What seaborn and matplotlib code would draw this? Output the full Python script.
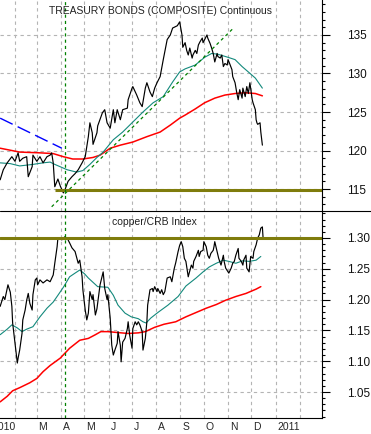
import pandas as pd
import matplotlib.pyplot as plt
from matplotlib.ticker import MultipleLocator
from matplotlib.lines import Line2D
import seaborn as sns

# 날짜는 2010-01-01 기준 경과일
base = pd.Timestamp('2010-01-01')

# 미 국채 (TREASURY BONDS) 종가
bond_days = [12, 16, 21, 27, 31, 35, 37, 41, 46, 48,
             53, 54, 59, 63, 67, 72, 76, 78, 80, 82,
             86, 89, 93, 95, 99, 104, 108, 112, 117, 121,
             125, 127, 130, 131, 136, 137, 143, 146, 149, 153,
             157, 159, 162, 166, 169, 175, 176, 181, 182, 187,
             191, 194, 198, 200, 204, 207, 210, 213, 217, 221,
             226, 230, 233, 239, 242, 245, 246, 249, 251, 253,
             255, 258, 259, 262, 264, 266, 268, 271, 272, 274,
             277, 278, 281, 283, 285, 287, 290, 291, 294, 296,
             298, 300, 303, 304, 306, 309, 310, 313, 315, 317,
             319, 322, 323, 326, 328, 330, 332, 335, 336, 339,
             340, 341, 342, 345, 346, 348]
bond_close = [116.2, 117.5, 118.4, 119.2, 118.6, 119.7, 118.6, 119.0, 119.2, 116.6,
              117.9, 119.4, 118.6, 119.2, 118.4, 119.2, 119.4, 119.7, 118.4, 115.3,
              116.3, 115.4, 114.5, 114.9, 116.0, 116.6, 117.0, 117.5, 118.4, 119.2,
              121.8, 123.6, 122.3, 120.8, 122.3, 123.2, 124.9, 125.3, 123.6, 122.9,
              125.3, 123.6, 125.3, 124.0, 125.3, 125.5, 126.6, 128.1, 128.3, 127.2,
              126.2, 125.7, 128.1, 128.8, 127.6, 127.0, 128.1, 128.8, 129.6, 131.8,
              134.4, 135.0, 135.9, 136.2, 136.7, 135.0, 133.4, 134.0, 133.0, 132.4,
              133.3, 132.0, 132.4, 133.0, 132.6, 133.7, 134.1, 134.6, 134.0, 134.4,
              135.0, 134.6, 133.9, 133.3, 132.6, 131.5, 132.6, 132.2, 132.0, 132.4,
              130.9, 131.3, 131.1, 131.8, 131.3, 130.5, 129.6, 128.8, 127.6, 126.6,
              127.9, 126.8, 128.1, 127.0, 128.3, 127.4, 128.8, 126.6, 126.2, 125.3,
              124.0, 123.6, 123.4, 123.6, 122.4, 120.7]

# 국채 이동평균 (단기 / 장기)
bond_ma_s_days = [12, 25, 37, 54, 67, 76, 82, 98, 110, 118,
                  127, 136, 144, 157, 169, 182, 195, 208, 221, 233,
                  242, 249, 262, 274, 283, 291, 304, 313, 322, 330,
                  339, 348]
bond_ma_s = [118.4, 118.3, 118.0, 118.2, 118.4, 118.5, 118.2, 117.5, 117.2, 117.4,
             118.2, 119.1, 119.8, 121.4, 122.4, 123.7, 125.0, 126.2, 127.0, 128.9,
             130.2, 130.6, 131.1, 132.1, 132.6, 132.5, 132.1, 131.8, 130.9, 130.2,
             129.4, 128.1]
bond_ma_l_days = [12, 37, 63, 80, 93, 105, 118, 131, 140, 153,
                  166, 182, 200, 217, 230, 242, 249, 262, 274, 287,
                  300, 313, 326, 339, 348]
bond_ma_l = [120.3, 119.8, 119.7, 119.6, 119.2, 118.9, 118.9, 119.1, 119.4, 120.3,
             120.7, 121.1, 121.8, 122.4, 123.3, 124.2, 124.6, 125.4, 126.2, 126.8,
             127.2, 127.4, 127.5, 127.4, 127.1]

# 추세선, 지지선
down_days = [12, 91]
down_vals = [124.2, 120.3]
up_days = [78, 310]
up_vals = [112.7, 135.8]
bond_support = 114.9
bond_support_start = 82
marker_day = 95

# copper/CRB 비율
cu_days = [12, 16, 18, 21, 22, 25, 27, 28, 31, 34,
           35, 37, 40, 41, 44, 46, 48, 50, 53, 54,
           57, 59, 60, 63, 67, 72, 76, 80, 82, 85,
           86, 91, 95, 99, 101, 104, 108, 112, 114, 117,
           118, 121, 123, 125, 127, 130, 131, 134, 136, 140,
           144, 146, 149, 150, 153, 155, 157, 159, 162, 163,
           166, 167, 169, 172, 175, 176, 178, 181, 182, 185,
           187, 189, 191, 194, 195, 198, 200, 201, 204, 207,
           208, 210, 213, 214, 217, 219, 221, 223, 226, 230,
           232, 235, 237, 240, 242, 244, 246, 248, 250, 253,
           254, 257, 259, 260, 263, 266, 267, 269, 272, 273,
           276, 278, 280, 282, 285, 286, 287, 291, 292, 295,
           298, 299, 301, 304, 305, 308, 310, 312, 314, 317,
           318, 321, 323, 324, 327, 328, 331, 333, 336, 337,
           340, 342, 344, 346, 348, 349]
cu_ratio = [1.189, 1.205, 1.200, 1.218, 1.224, 1.212, 1.189, 1.162, 1.129, 1.097,
            1.105, 1.118, 1.145, 1.167, 1.183, 1.199, 1.210, 1.194, 1.183, 1.208,
            1.232, 1.235, 1.224, 1.232, 1.227, 1.232, 1.229, 1.240, 1.259, 1.286,
            1.300, 1.297, 1.302, 1.297, 1.292, 1.284, 1.278, 1.259, 1.264, 1.237,
            1.216, 1.183, 1.167, 1.178, 1.213, 1.200, 1.208, 1.175, 1.185, 1.224,
            1.245, 1.218, 1.200, 1.208, 1.170, 1.126, 1.110, 1.118, 1.129, 1.148,
            1.126, 1.099, 1.131, 1.137, 1.153, 1.164, 1.142, 1.121, 1.153, 1.164,
            1.159, 1.164, 1.159, 1.148, 1.118, 1.137, 1.164, 1.191, 1.216, 1.218,
            1.213, 1.221, 1.213, 1.218, 1.210, 1.216, 1.208, 1.213, 1.235, 1.237,
            1.229, 1.250, 1.260, 1.278, 1.288, 1.294, 1.286, 1.267, 1.262, 1.237,
            1.242, 1.256, 1.251, 1.262, 1.270, 1.280, 1.270, 1.278, 1.280, 1.294,
            1.286, 1.272, 1.267, 1.275, 1.280, 1.286, 1.294, 1.272, 1.267, 1.256,
            1.272, 1.262, 1.251, 1.245, 1.243, 1.251, 1.259, 1.262, 1.272, 1.283,
            1.267, 1.262, 1.256, 1.264, 1.272, 1.251, 1.245, 1.270, 1.267, 1.278,
            1.289, 1.300, 1.305, 1.316, 1.318, 1.298]

cu_ma_s_days = [12, 21, 27, 34, 40, 46, 54, 63, 72, 80,
                86, 93, 101, 108, 114, 120, 125, 137, 150, 157,
                163, 172, 180, 189, 195, 199, 205, 214, 227, 240,
                250, 263, 272, 280, 289, 298, 305, 314, 323, 331,
                340, 346]
cu_ma_s = [1.143, 1.152, 1.159, 1.154, 1.148, 1.152, 1.156, 1.172, 1.186, 1.196,
           1.207, 1.220, 1.237, 1.243, 1.248, 1.242, 1.235, 1.221, 1.220, 1.207,
           1.191, 1.178, 1.172, 1.169, 1.164, 1.162, 1.170, 1.179, 1.191, 1.205,
           1.222, 1.235, 1.245, 1.253, 1.259, 1.264, 1.262, 1.259, 1.263, 1.262,
           1.264, 1.270]
cu_ma_l_days = [12, 21, 28, 37, 50, 59, 67, 76, 89, 101,
                114, 125, 134, 141, 150, 167, 176, 189, 198, 210,
                222, 237, 250, 263, 276, 289, 301, 314, 327, 340,
                346]
cu_ma_l = [1.034, 1.043, 1.052, 1.057, 1.065, 1.072, 1.083, 1.093, 1.105, 1.121,
           1.134, 1.137, 1.143, 1.148, 1.148, 1.146, 1.145, 1.146, 1.148, 1.155,
           1.160, 1.164, 1.172, 1.179, 1.186, 1.192, 1.199, 1.205, 1.210, 1.217,
           1.221]
cu_resist = 1.30

month_ticks = pd.date_range('2010-01-01', '2011-03-01', freq='MS')
month_labels = ['2010', '', 'M', 'A', 'M', 'J', 'J', 'A', 'S', 'O', 'N', 'D', '2011', '', '']


def to_date(days):
    return base + pd.to_timedelta(days, unit='D')


sns.set_style('white')
plt.rcParams['font.family'] = ['Liberation Sans', 'DejaVu Sans']

TEAL = '#13897c'
RED = '#ff0000'
OLIVE = '#7f7c0c'
GRID = '#b4b4b4'

fig = plt.figure(figsize=(3.71, 4.34), dpi=100)
ax1 = fig.add_axes([0, 223 / 434, 322 / 371, 211 / 434])
ax2 = fig.add_axes([0, 16 / 434, 322 / 371, 207 / 434])

xmin, xmax = to_date(11.8), to_date(424.4)


def draw_line(ax, days, vals, color, lw):
    df = pd.DataFrame({'date': to_date(days), 'v': vals})
    sns.lineplot(data=df, x='date', y='v', ax=ax, color=color, lw=lw,
                 estimator=None, sort=False)


# 위: 국채
draw_line(ax1, bond_ma_l_days, bond_ma_l, RED, 1.1)
draw_line(ax1, bond_ma_s_days, bond_ma_s, TEAL, 0.8)
draw_line(ax1, bond_days, bond_close, 'black', 0.85)
sns.lineplot(x=to_date(down_days), y=down_vals, ax=ax1, color='#0000ff', lw=1.0,
             linestyle=(0, (10, 4)))
sns.lineplot(x=to_date(up_days), y=up_vals, ax=ax1, color='#008000', lw=0.9,
             linestyle=(0, (2.5, 2.5)))
ax1.hlines(bond_support, to_date(bond_support_start), xmax, color=OLIVE, lw=2.2)
ax1.set_ylim(112.15, 139.54)
ax1.yaxis.set_major_locator(MultipleLocator(5))
ax1.yaxis.set_minor_locator(MultipleLocator(1))
ax1.text(0.497, 0.948, 'TREASURY BONDS (COMPOSITE) Continuous', transform=ax1.transAxes,
         ha='center', va='center', fontsize=7.5, color='#222222')

# 아래: copper/CRB
draw_line(ax2, cu_ma_l_days, cu_ma_l, RED, 1.1)
draw_line(ax2, cu_ma_s_days, cu_ma_s, TEAL, 0.8)
draw_line(ax2, cu_days, cu_ratio, 'black', 0.85)
ax2.axhline(cu_resist, color=OLIVE, lw=2.2)
ax2.set_ylim(1.0078, 1.3438)
ax2.yaxis.set_major_locator(MultipleLocator(0.05))
ax2.yaxis.set_minor_locator(MultipleLocator(0.01))
ax2.yaxis.set_major_formatter(lambda v, p: f'{v:.2f}')
ax2.text(0.48, 0.947, 'copper/CRB Index', transform=ax2.transAxes,
         ha='center', va='center', fontsize=7.5, color='#222222')

for ax in (ax1, ax2):
    ax.axvline(to_date(marker_day), color='#008000', lw=0.9, linestyle=(0, (2.5, 2.5)))
    ax.set_xticks(month_ticks)
    ax.set_xticklabels([])
    # set_xticks 가 범위를 넓히므로 그 다음에 지정
    ax.set_xlim(xmin, xmax)
    ax.set_xlabel('')
    ax.set_ylabel('')
    ax.grid(True, which='major', color=GRID, linestyle=(0, (3, 3)), lw=0.8)
    ax.yaxis.tick_right()
    ax.tick_params(axis='y', which='major', length=5.5, width=0.8, pad=12.3,
                   labelsize=8.5, colors='black', labelcolor='#111111')
    ax.tick_params(axis='y', which='minor', length=2.4, width=0.8, colors='black')
    for s in ('left', 'top'):
        ax.spines[s].set_visible(False)
    ax.spines['right'].set_color('black')
    ax.spines['right'].set_linewidth(0.8)

ax1.spines['bottom'].set_visible(False)
ax1.tick_params(axis='x', length=0)
ax2.spines['bottom'].set_color('black')
ax2.spines['bottom'].set_linewidth(0.8)
ax2.tick_params(axis='x', length=11.5, width=0.8, direction='out', colors='black')

# 월 라벨 (눈금 오른쪽), 2010 은 원본처럼 왼쪽 끝에서 잘림
for d, lab in zip(month_ticks, month_labels):
    ax2.annotate(lab, xy=(d, 0), xycoords=('data', 'axes fraction'),
                 xytext=(1.2, -6.5), textcoords='offset points',
                 ha='left', va='center', fontsize=7.5, annotation_clip=False)

# 두 패널 사이 구분선
fig.add_artist(Line2D([0, 1], [223 / 434, 223 / 434], color='black', lw=0.8))

fig.savefig('out.png', dpi=100)
